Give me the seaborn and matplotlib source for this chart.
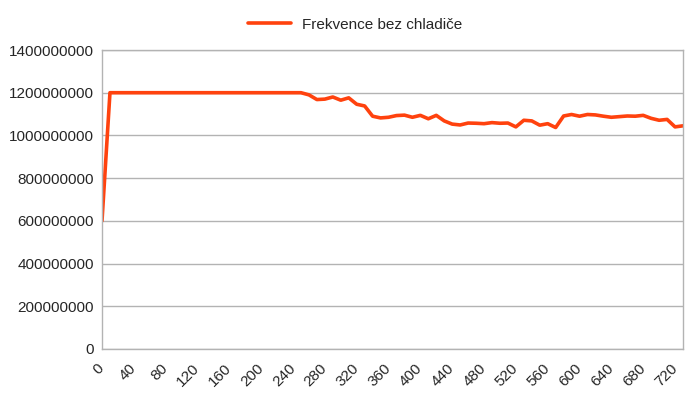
import numpy as np
import pandas as pd
import seaborn as sns
import matplotlib
matplotlib.use('Agg')
import matplotlib.pyplot as plt
import matplotlib.transforms as mtransforms

# time axis (every 10 units) and frequency readings
cas = list(range(0, 740, 10))
frekvence_mhz = [600] + [1200] * 25 + [
    1190, 1168, 1170, 1180, 1165, 1176, 1146, 1138, 1090, 1082,
    1085, 1093, 1095, 1085, 1094, 1078, 1094, 1068, 1053, 1049,
    1058, 1057, 1055, 1060, 1057, 1058, 1040, 1071, 1068, 1048,
    1055, 1037, 1091, 1098, 1090, 1098, 1096, 1090, 1085, 1088,
    1091, 1090, 1094, 1080, 1071, 1075, 1040, 1045]
label = 'Frekvence bez chladiče'

df = pd.DataFrame({'cas': cas, 'frekvence': np.array(frekvence_mhz) * 1e6})

sns.set_style('white')
plt.rcParams['font.family'] = ['Liberation Sans', 'DejaVu Sans']

grey = '#b3b3b3'
fig = plt.figure(figsize=(6.94, 3.98), dpi=100)
ax = fig.add_axes([102 / 694, 1 - 349 / 398, 581 / 694, 299 / 398])

sns.lineplot(data=df, x='cas', y='frekvence', color='#ff420e', linewidth=2.6,
             label=label, ax=ax)

ax.set_xlim(0, 730)
ax.set_ylim(0, 1.4e9)
yt = np.arange(0, 1.4e9 + 1, 2e8)
ax.set_yticks(yt)
ax.set_yticklabels([str(int(v)) for v in yt], fontsize=11)

# minor-looking ticks at every sample, rotated labels every 40
ax.set_xticks(cas)
ax.set_xticklabels([])
lab_tr = ax.get_xaxis_transform() + mtransforms.ScaledTranslation(
    -5 / 100, -12 / 100, fig.dpi_scale_trans)
for c in cas:
    if c % 40 == 0:
        ax.text(c, 0, str(c), transform=lab_tr, rotation=45, ha='right', va='top',
                rotation_mode='anchor', fontsize=11, clip_on=False)

ax.tick_params(axis='x', length=5, color=grey, width=1)
ax.tick_params(axis='y', length=4, color=grey, width=1, pad=2)
ax.yaxis.grid(True, color=grey, linewidth=1)
ax.set_xlabel('')
ax.set_ylabel('')
for s in ax.spines.values():
    s.set_color(grey)
    s.set_linewidth(1)

ax.get_legend().remove()
handles, labels = ax.get_legend_handles_labels()
fig.legend(handles, labels, loc='upper center', bbox_to_anchor=(0.512, 0.99),
           frameon=False, fontsize=11, handlelength=2.8, handletextpad=0.7)

fig.savefig('out.png', dpi=100)
